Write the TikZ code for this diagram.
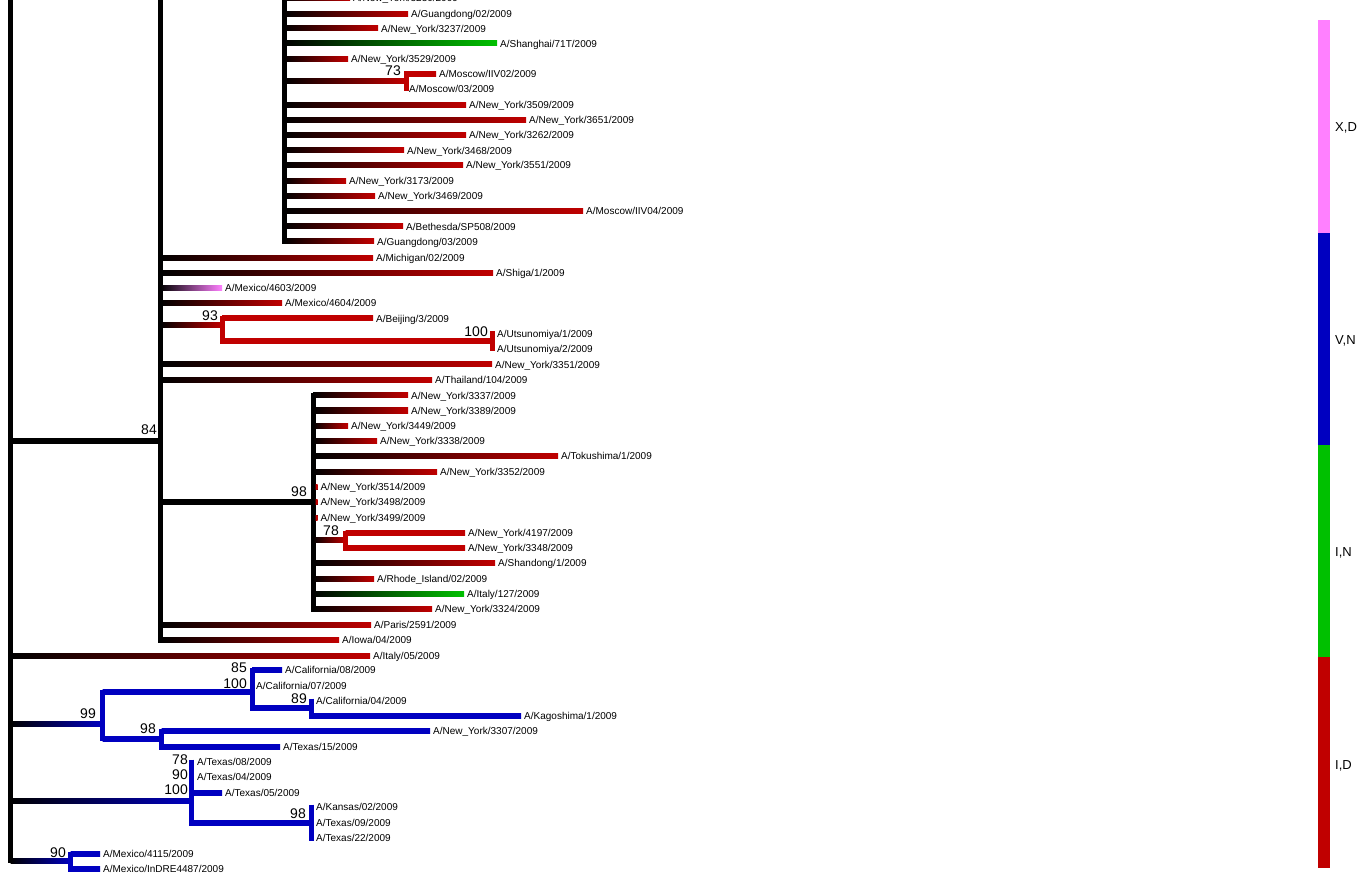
\documentclass[tikz,border=0pt]{standalone}
\usepackage{fontspec}
\setmainfont{Liberation Sans}

\definecolor{cladered}{RGB}{192,0,0}
\definecolor{cladeblue}{RGB}{0,0,192}
\definecolor{cladegreen}{RGB}{0,192,0}
\definecolor{cladepink}{RGB}{255,128,255}

\tikzset{
  leaf/.style={anchor=west, inner sep=0pt, text height=7.2pt, text depth=0pt, font=\fontsize{10}{12}\selectfont},
  boot/.style={anchor=east, inner sep=0pt, text height=10pt, text depth=0pt, font=\fontsize{14}{16}\selectfont},
  key/.style={anchor=west, inner sep=0pt, text height=9.3pt, text depth=0pt, font=\fontsize{13}{15}\selectfont},
  stem/.style={line width=5pt},
}

% horizontal branch: from x, to x, y, base colour, tip colour
\newcommand{\arm}[5]{\fill[left color=#4, right color=#5] (#1,#3-2.5) rectangle (#2,#3+2.5);}
% branch ending in a labelled leaf: name, from x, to x, y, base colour, tip colour, label
\newcommand{\twig}[7]{%
  \arm{#2}{#3}{#4}{#5}{#6}
  \node[leaf] (#1) at (#3+3,#4) {#7};}

\begin{document}
\begin{tikzpicture}[x=1pt, y=-1pt]
  \useasboundingbox[fill=white] (0,0) rectangle (1368,890);

  % root
  \draw[stem] (10.5,-5)--(10.5,863);
  \arm{10.5}{160.5}{441}{black}{black}
  \twig{italy05}{10.5}{370}{655.5}{black}{cladered}{A/Italy/05/2009}
  \arm{10.5}{102.5}{724}{black}{cladeblue}
  \arm{10.5}{191}{800.5}{black}{cladeblue}
  \arm{10.5}{70.5}{860.5}{black}{cladeblue}
  \node[boot] (b84) at (157,430) {84};

  % clade 84
  \draw[stem] (160.5,-5)--(160.5,642.5);
  \draw[stem] (284,-5)--(284,244);
  \twig{ny0}{284}{350}{-2}{black}{cladered}{A/New\_York/3230/2009}
  \twig{guang02}{284}{408}{14}{black}{cladered}{A/Guangdong/02/2009}
  \twig{ny3237}{284}{378}{28.5}{black}{cladered}{A/New\_York/3237/2009}
  \twig{shanghai}{284}{497}{43.5}{black}{cladegreen}{A/Shanghai/71T/2009}
  \twig{ny3529}{284}{348}{59}{black}{cladered}{A/New\_York/3529/2009}
  \arm{284}{406}{81.5}{black}{cladered}
  \draw[stem, cladered] (406,71.5)--(406,91.5);
  \twig{mosc02}{406}{436}{74}{cladered}{cladered}{A/Moscow/IIV02/2009}
  \node[leaf] (mosc03) at (409,89) {A/Moscow/03/2009};
  \node[boot] (b73) at (401,71) {73};
  \twig{ny3509}{284}{466}{105}{black}{cladered}{A/New\_York/3509/2009}
  \twig{ny3651}{284}{526}{120}{black}{cladered}{A/New\_York/3651/2009}
  \twig{ny3262}{284}{466}{135}{black}{cladered}{A/New\_York/3262/2009}
  \twig{ny3468}{284}{404}{150.5}{black}{cladered}{A/New\_York/3468/2009}
  \twig{ny3551}{284}{463}{165}{black}{cladered}{A/New\_York/3551/2009}
  \twig{ny3173}{284}{346}{181}{black}{cladered}{A/New\_York/3173/2009}
  \twig{ny3469}{284}{375}{196}{black}{cladered}{A/New\_York/3469/2009}
  \twig{mosc04}{284}{583}{211}{black}{cladered}{A/Moscow/IIV04/2009}
  \twig{bethesda}{284}{403}{226.5}{black}{cladered}{A/Bethesda/SP508/2009}
  \twig{guang03}{284}{374}{241.5}{black}{cladered}{A/Guangdong/03/2009}

  \twig{michigan}{160.5}{373}{258}{black}{cladered}{A/Michigan/02/2009}
  \twig{shiga}{160.5}{493}{273}{black}{cladered}{A/Shiga/1/2009}
  \twig{mex4603}{160.5}{222}{288}{black}{cladepink}{A/Mexico/4603/2009}
  \twig{mex4604}{160.5}{282}{303}{black}{cladered}{A/Mexico/4604/2009}
  \arm{160.5}{222}{325.5}{black}{cladered}
  \draw[stem, cladered] (222,316)--(222,344);
  \twig{beijing}{222}{373}{318.5}{cladered}{cladered}{A/Beijing/3/2009}
  \arm{222}{492}{341.5}{cladered}{cladered}
  \draw[stem, cladered] (492,331.5)--(492,351.5);
  \node[leaf] (utsu1) at (497,334) {A/Utsunomiya/1/2009};
  \node[leaf] (utsu2) at (497,349) {A/Utsunomiya/2/2009};
  \node[boot] (b100a) at (488,332) {100};
  \node[boot] (b93) at (218,316) {93};
  \twig{ny3351}{160.5}{492}{364.5}{black}{cladered}{A/New\_York/3351/2009}
  \twig{thai}{160.5}{432}{380}{black}{cladered}{A/Thailand/104/2009}

  % clade 98
  \arm{160.5}{313}{502}{black}{black}
  \draw[stem] (313,393)--(313,611.5);
  \node[boot] (b98a) at (307,491) {98};
  \twig{ny3337}{313}{408}{395.5}{black}{cladered}{A/New\_York/3337/2009}
  \twig{ny3389}{313}{408}{410.5}{black}{cladered}{A/New\_York/3389/2009}
  \twig{ny3449}{313}{348}{426}{black}{cladered}{A/New\_York/3449/2009}
  \twig{ny3338}{313}{377}{441}{black}{cladered}{A/New\_York/3338/2009}
  \twig{tokushima}{313}{558}{456}{black}{cladered}{A/Tokushima/1/2009}
  \twig{ny3352}{313}{437}{471.5}{black}{cladered}{A/New\_York/3352/2009}
  \twig{ny3514}{315.5}{317.5}{487}{cladered}{cladered}{A/New\_York/3514/2009}
  \twig{ny3498}{315.5}{317.5}{502}{cladered}{cladered}{A/New\_York/3498/2009}
  \twig{ny3499}{315.5}{317.5}{517.5}{cladered}{cladered}{A/New\_York/3499/2009}
  \arm{313}{345.5}{540}{black}{cladered}
  \draw[stem, cladered] (345.5,530.5)--(345.5,550.5);
  \twig{ny4197}{345.5}{465}{533}{cladered}{cladered}{A/New\_York/4197/2009}
  \twig{ny3348}{345.5}{465}{548}{cladered}{cladered}{A/New\_York/3348/2009}
  \node[boot] (b78a) at (339,530) {78};
  \twig{shandong}{313}{495}{563}{black}{cladered}{A/Shandong/1/2009}
  \twig{rhode}{313}{374}{578.5}{black}{cladered}{A/Rhode\_Island/02/2009}
  \twig{italy127}{313}{464}{594}{black}{cladegreen}{A/Italy/127/2009}
  \twig{ny3324}{313}{432}{609}{black}{cladered}{A/New\_York/3324/2009}

  \twig{paris}{160.5}{371}{624.5}{black}{cladered}{A/Paris/2591/2009}
  \twig{iowa}{160.5}{339}{640}{black}{cladered}{A/Iowa/04/2009}

  % clade 99
  \draw[stem, cladeblue] (102.5,689.5)--(102.5,741);
  \node[boot] (b99) at (96,713) {99};
  \arm{102.5}{252}{692}{cladeblue}{cladeblue}
  \draw[stem, cladeblue] (252,667.5)--(252,710.5);
  \twig{cal08}{252}{282}{670}{cladeblue}{cladeblue}{A/California/08/2009}
  \node[leaf] (cal07) at (256,686) {A/California/07/2009};
  \node[boot] (b85) at (247,667) {85};
  \node[boot] (b100b) at (247,683) {100};
  \arm{252}{311.5}{708}{cladeblue}{cladeblue}
  \draw[stem, cladeblue] (311.5,698.5)--(311.5,718.5);
  \node[leaf] (cal04) at (316,701) {A/California/04/2009};
  \twig{kagoshima}{311.5}{521}{716}{cladeblue}{cladeblue}{A/Kagoshima/1/2009}
  \node[boot] (b89) at (307,698) {89};
  \arm{102.5}{161.5}{738.5}{cladeblue}{cladeblue}
  \draw[stem, cladeblue] (161.5,728.5)--(161.5,749.5);
  \twig{ny3307}{161.5}{430}{731}{cladeblue}{cladeblue}{A/New\_York/3307/2009}
  \twig{texas15}{161.5}{280}{747}{cladeblue}{cladeblue}{A/Texas/15/2009}
  \node[boot] (b98b) at (156,728) {98};

  % texas clade
  \draw[stem, cladeblue] (191,759.5)--(191,825.5);
  \node[leaf] (texas08) at (197,762) {A/Texas/08/2009};
  \node[leaf] (texas04) at (197,777) {A/Texas/04/2009};
  \twig{texas05}{191}{222}{793}{cladeblue}{cladeblue}{A/Texas/05/2009}
  \node[boot] (b78b) at (188,759) {78};
  \node[boot] (b90a) at (188,774) {90};
  \node[boot] (b100c) at (188,789) {100};
  \arm{191}{311.5}{823}{cladeblue}{cladeblue}
  \draw[stem, cladeblue] (311.5,804.5)--(311.5,840.5);
  \node[leaf] (kansas) at (316,807) {A/Kansas/02/2009};
  \node[leaf] (texas09) at (316,823) {A/Texas/09/2009};
  \node[leaf] (texas22) at (316,838) {A/Texas/22/2009};
  \node[boot] (b98c) at (306,813) {98};

  % mexico clade
  \draw[stem, cladeblue] (70.5,851.5)--(70.5,871.5);
  \twig{mex4115}{70.5}{100}{854}{cladeblue}{cladeblue}{A/Mexico/4115/2009}
  \twig{mexindre}{70.5}{100}{869}{cladeblue}{cladeblue}{A/Mexico/InDRE4487/2009}
  \node[boot] (b90b) at (66,852) {90};

  % colour key
  \fill[cladepink] (1318,20) rectangle (1330,233);
  \fill[cladeblue] (1318,233) rectangle (1330,445);
  \fill[cladegreen] (1318,445) rectangle (1330,657);
  \fill[cladered] (1318,657) rectangle (1330,868);
  \node[key] (xd) at (1335,127) {X,D};
  \node[key] (vn) at (1335,340) {V,N};
  \node[key] (in) at (1335,552) {I,N};
  \node[key] (id) at (1335,765) {I,D};
\end{tikzpicture}
\end{document}
